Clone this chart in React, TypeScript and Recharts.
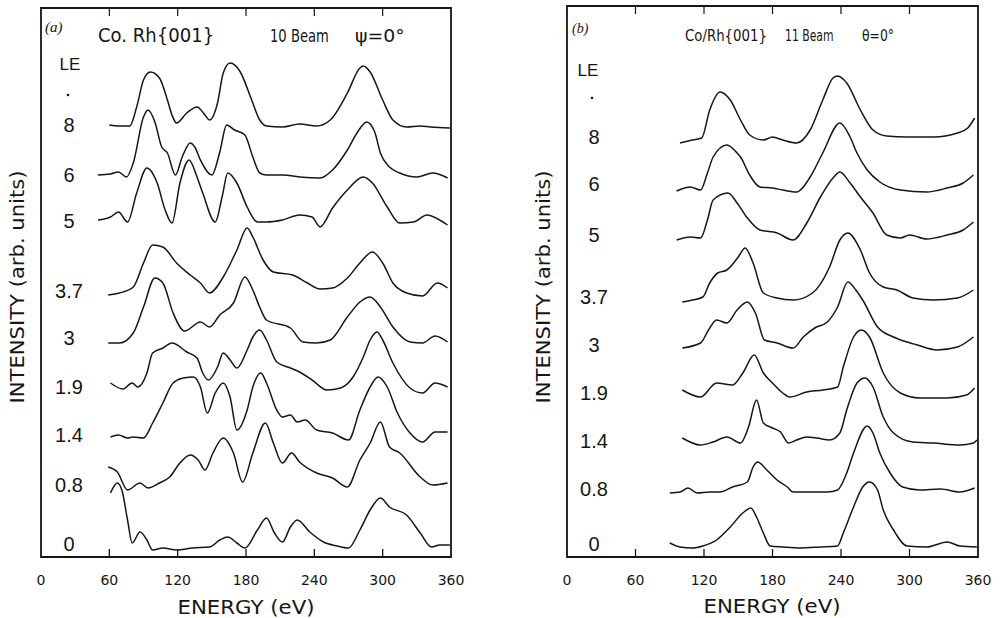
import { LineChart, Line, XAxis, YAxis, ReferenceArea } from "recharts";

// energies in eV, intensity in arb. units (curves stacked as printed)
const ENERGY_TICKS = [0, 60, 120, 180, 240, 300, 360];
const LE_VALUES = ["8", "6", "5", "3.7", "3", "1.9", "1.4", "0.8", "0"];

// (a) 10 beam
const A8: [number, number][] = [[60,432],[69,431],[78,431],[84,450],[90,477],[96,485],[104,479],[111,457],[115,442],[119,434],[128,444],[137,450],[144,442],[148,437],[155,454],[160,484],[166,494],[175,485],[184,460],[192,437],[198,431],[212,430],[227,433],[242,431],[254,437],[269,464],[280,489],[283,491],[289,485],[300,457],[309,437],[321,430],[333,431],[342,430],[359,429]];
const A6: [number, number][] = [[50,382],[61,383],[68,385],[75,380],[81,394],[90,440],[94,447],[100,435],[106,410],[111,404],[118,382],[124,400],[131,414],[135,410],[140,397],[150,382],[157,405],[163,432],[170,427],[179,422],[186,400],[192,384],[198,382],[212,382],[227,380],[245,379],[256,387],[269,407],[278,425],[286,435],[293,425],[298,404],[306,390],[315,384],[330,380],[344,384],[357,379]];
const A5: [number, number][] = [[50,337],[61,340],[68,345],[76,335],[84,364],[93,389],[102,374],[109,347],[115,334],[122,374],[130,397],[137,380],[142,364],[153,335],[159,360],[164,384],[172,374],[181,350],[190,335],[198,335],[212,337],[227,342],[238,340],[245,330],[256,349],[269,367],[283,380],[291,374],[304,350],[315,334],[327,335],[339,342],[350,337],[357,332]];
const A37: [number, number][] = [[59,262],[69,264],[81,270],[90,294],[98,312],[107,310],[119,294],[131,282],[140,274],[148,264],[160,280],[172,307],[181,329],[186,320],[195,297],[204,285],[221,282],[234,274],[245,268],[256,269],[269,279],[280,294],[291,305],[300,294],[309,274],[321,264],[335,261],[348,274],[357,269]];
const A3: [number, number][] = [[59,214],[69,214],[81,224],[90,250],[100,279],[107,274],[116,244],[126,226],[140,235],[148,230],[157,242],[169,254],[179,280],[186,267],[192,250],[198,237],[219,229],[230,215],[242,214],[254,217],[269,240],[280,255],[289,260],[298,250],[309,230],[324,215],[335,214],[346,221],[357,215]];
const A19: [number, number][] = [[61,174],[72,168],[80,174],[85,170],[93,184],[98,204],[107,209],[115,214],[128,205],[137,199],[142,184],[147,177],[155,190],[160,204],[166,197],[172,189],[181,207],[186,220],[192,227],[198,217],[207,195],[219,189],[227,185],[238,177],[251,167],[263,169],[274,180],[283,200],[289,217],[295,225],[300,217],[309,194],[324,169],[335,164],[346,174],[357,170]];
const A14: [number, number][] = [[61,120],[68,122],[76,119],[81,120],[90,119],[98,134],[107,154],[116,174],[125,179],[134,180],[140,170],[146,144],[153,164],[160,174],[166,160],[172,127],[181,147],[186,170],[193,184],[198,174],[207,147],[212,140],[219,142],[225,135],[232,137],[242,127],[256,124],[270,117],[280,147],[289,170],[296,180],[304,170],[313,144],[324,124],[335,115],[346,125],[357,125]];
const A08: [number, number][] = [[59,90],[67,85],[76,67],[87,74],[94,69],[104,74],[113,80],[122,94],[131,102],[138,97],[144,87],[151,104],[160,119],[169,104],[177,75],[186,104],[197,134],[204,114],[212,94],[220,104],[227,95],[242,84],[256,79],[269,70],[280,97],[289,114],[298,135],[306,110],[315,104],[333,80],[344,72],[357,74]];
const A0: [number, number][] = [[61,64],[67,74],[71,67],[76,37],[80,14],[87,25],[93,17],[98,7],[107,9],[119,7],[133,9],[148,10],[157,17],[164,20],[172,14],[179,9],[190,27],[198,39],[205,24],[212,15],[219,30],[225,37],[236,25],[248,15],[260,11],[270,9],[280,27],[289,47],[298,59],[306,50],[321,42],[333,24],[343,10],[350,12],[359,12]];

// (b) 11 beam
const B8: [number, number][] = [[99,414],[110,417],[118,419],[125,447],[134,465],[143,457],[152,437],[160,422],[172,417],[180,420],[189,417],[201,414],[213,427],[224,457],[233,479],[237,481],[245,474],[257,447],[268,427],[280,421],[298,420],[321,420],[342,424],[351,429],[356,437],[357,439]];
const B6: [number, number][] = [[96,366],[108,370],[117,367],[123,384],[128,400],[140,412],[149,404],[152,400],[160,382],[169,370],[180,369],[189,367],[201,365],[213,380],[224,404],[239,434],[248,420],[254,404],[263,387],[274,375],[292,367],[315,365],[333,369],[347,374],[356,382]];
const B5: [number, number][] = [[96,317],[108,320],[117,319],[123,337],[128,357],[141,364],[149,354],[158,339],[169,327],[184,324],[198,317],[210,334],[222,360],[233,379],[239,385],[248,374],[257,360],[268,344],[280,322],[292,319],[300,322],[315,318],[333,322],[347,327],[356,335]];
const B37: [number, number][] = [[101,255],[110,257],[119,260],[125,274],[132,284],[140,287],[150,300],[156,309],[163,294],[172,264],[184,259],[198,257],[215,264],[230,290],[239,317],[246,324],[257,307],[265,284],[277,270],[289,267],[303,259],[321,257],[342,259],[356,267]];
const B3: [number, number][] = [[101,209],[117,214],[124,227],[131,237],[140,234],[149,247],[158,255],[165,244],[173,217],[184,214],[198,209],[207,220],[217,229],[228,235],[237,250],[246,275],[253,267],[259,257],[272,230],[286,220],[307,212],[324,207],[342,210],[356,220]];
const B19: [number, number][] = [[101,167],[117,160],[131,174],[145,172],[154,184],[164,202],[172,184],[180,174],[189,164],[195,160],[210,165],[224,167],[237,170],[242,190],[251,220],[258,227],[265,220],[277,184],[292,164],[309,159],[333,159],[350,162],[357,169]];
const B14: [number, number][] = [[101,119],[117,112],[128,115],[140,120],[152,114],[159,130],[166,157],[172,134],[180,129],[187,125],[194,114],[201,117],[210,120],[219,119],[230,117],[239,124],[245,147],[254,174],[261,179],[268,170],[277,140],[286,124],[303,115],[321,114],[344,112],[356,114],[359,117]];
const B08: [number, number][] = [[90,64],[99,65],[106,69],[114,64],[125,65],[134,65],[145,70],[158,75],[163,90],[167,95],[175,87],[184,77],[193,70],[198,65],[213,65],[228,65],[237,67],[245,84],[251,104],[263,131],[268,124],[274,104],[283,84],[294,70],[309,67],[327,68],[344,65],[357,69]];
const B0: [number, number][] = [[90,14],[99,10],[110,9],[119,11],[131,17],[143,30],[154,44],[161,49],[166,40],[172,24],[178,11],[189,10],[204,9],[222,10],[237,11],[242,24],[251,50],[259,70],[265,75],[272,67],[277,47],[286,27],[298,11],[315,10],[333,15],[344,11],[359,10]];

const CURVES_A = [A8, A6, A5, A37, A3, A19, A14, A08, A0];
const CURVES_B = [B8, B6, B5, B37, B3, B19, B14, B08, B0];

const INK = "#161616";
const PLOT_BOTTOM = 557;

type PanelCfg = {
  left: number;
  width: number;
  top: number;
  plotLeft: number;
  plotRight: number;
  yMax: number;
  curves: [number, number][][];
};

const PANEL_A: PanelCfg = { left: 0, width: 500, top: 8, plotLeft: 41, plotRight: 451, yMax: 549, curves: CURVES_A };
const PANEL_B: PanelCfg = { left: 500, width: 504, top: 6, plotLeft: 67, plotRight: 478, yMax: 551, curves: CURVES_B };

function makeTick(top: number) {
  return (props: any) => {
    const { x, payload } = props;
    const v = payload.value;
    const inner = v !== 0 && v !== 360;
    return (
      <g>
        {inner && <line x1={x} x2={x} y1={PLOT_BOTTOM} y2={PLOT_BOTTOM - 8} stroke={INK} strokeWidth={1.3} />}
        {inner && <line x1={x} x2={x} y1={top} y2={top + 8} stroke={INK} strokeWidth={1.2} />}
        <text x={x} y={PLOT_BOTTOM + 28} textAnchor="middle" fontSize={14} fontFamily="DejaVu Sans" fill={INK}>
          {v}
        </text>
      </g>
    );
  };
}

function Panel({ cfg }: { cfg: PanelCfg }) {
  const h = 618;
  return (
    <div style={{ position: "absolute", left: cfg.left, top: 0 }}>
      <LineChart
        width={cfg.width}
        height={h}
        margin={{ top: cfg.top, right: cfg.width - cfg.plotRight, bottom: h - PLOT_BOTTOM - 30, left: cfg.plotLeft }}
      >
        <XAxis
          type="number"
          dataKey="e"
          domain={[0, 360]}
          ticks={ENERGY_TICKS}
          allowDataOverflow
          axisLine={false}
          tickLine={false}
          height={30}
          tick={makeTick(cfg.top)}
          interval={0}
        />
        <YAxis type="number" domain={[0, cfg.yMax]} hide allowDataOverflow />
        <ReferenceArea
          x1={0}
          x2={360}
          y1={0}
          y2={cfg.yMax}
          fill="none"
          fillOpacity={0}
          stroke={INK}
          strokeWidth={1.8}
          ifOverflow="visible"
        />
        {cfg.curves.map((c, i) => (
          <Line
            key={i}
            data={c.map(([e, v]) => ({ e, v }))}
            dataKey="v"
            type="monotone"
            stroke={INK}
            strokeWidth={1.5}
            dot={false}
            isAnimationActive={false}
          />
        ))}
      </LineChart>
    </div>
  );
}

// horizontally squeezed / stretched header text, the scan's lettering is condensed
function Squeezed({ x, y, sx, size, children }: { x: number; y: number; sx: number; size: number; children: string }) {
  return (
    <g transform={`translate(${x},${y}) scale(${sx},1)`}>
      <text x={0} y={0} fontSize={size} fontFamily="DejaVu Sans">
        {children}
      </text>
    </g>
  );
}

const LABEL_Y_A = [124, 174, 220, 290, 337, 386, 434, 484, 543];
const LABEL_Y_B = [136, 183, 234, 296, 344, 392, 440, 488, 543];

export default function App() {
  const sans = "DejaVu Sans";
  const lab = "Liberation Sans";
  return (
    <div style={{ position: "absolute", left: 0, top: 0, width: 1004, height: 618, background: "#fff", overflow: "hidden" }}>
      <Panel cfg={PANEL_A} />
      <Panel cfg={PANEL_B} />
      <svg width={1004} height={618} style={{ position: "absolute", left: 0, top: 0, pointerEvents: "none" }}>
        <g fill={INK}>
          {/* panel (a) header */}
          <text x={45} y={32} fontSize={15} fontStyle="italic" fontFamily="Liberation Serif">(a)</text>
          <Squeezed x={98} y={42} sx={0.95} size={19}>{"Co. Rh{001}"}</Squeezed>
          <Squeezed x={270} y={42} sx={0.73} size={18}>10 Beam</Squeezed>
          <Squeezed x={355} y={42} sx={1.05} size={18}>ψ=0°</Squeezed>
          {/* panel (b) header */}
          <text x={572} y={33} fontSize={14} fontStyle="italic" fontFamily="Liberation Serif">(b)</text>
          <Squeezed x={685} y={41} sx={0.86} size={15.5}>{"Co/Rh{001}"}</Squeezed>
          <Squeezed x={785} y={41} sx={0.7} size={15.5}>11 Beam</Squeezed>
          <Squeezed x={862} y={41} sx={0.8} size={15.5}>θ=0°</Squeezed>

          {/* LE labels */}
          <text x={70} y={70} fontSize={17} fontFamily={lab} textAnchor="middle">LE</text>
          <circle cx={68} cy={95} r={1.3} />
          {LE_VALUES.map((t, i) => (
            <text key={"a" + t} x={69} y={LABEL_Y_A[i] + 7.5} fontSize={20} fontFamily={lab} textAnchor="middle">{t}</text>
          ))}
          <text x={588} y={76} fontSize={17} fontFamily={lab} textAnchor="middle">LE</text>
          <circle cx={592} cy={98} r={1.3} />
          {LE_VALUES.map((t, i) => (
            <text key={"b" + t} x={594} y={LABEL_Y_B[i] + 7.5} fontSize={20} fontFamily={lab} textAnchor="middle">{t}</text>
          ))}

          {/* axis titles */}
          <text x={246} y={614} fontSize={19} fontFamily={sans} textAnchor="middle" textLength={137} lengthAdjust="spacingAndGlyphs">ENERGY (eV)</text>
          <text x={772} y={613} fontSize={19} fontFamily={sans} textAnchor="middle" textLength={137} lengthAdjust="spacingAndGlyphs">ENERGY (eV)</text>
          <text transform="translate(24,287) rotate(-90)" fontSize={19} fontFamily={sans} textAnchor="middle" textLength={233} lengthAdjust="spacingAndGlyphs">INTENSITY (arb. units)</text>
          <text transform="translate(550,287) rotate(-90)" fontSize={19} fontFamily={sans} textAnchor="middle" textLength={233} lengthAdjust="spacingAndGlyphs">INTENSITY (arb. units)</text>
        </g>
      </svg>
    </div>
  );
}
